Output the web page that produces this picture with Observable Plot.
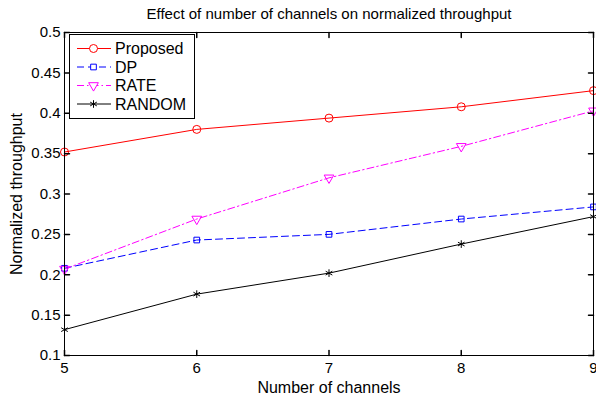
<!DOCTYPE html>
<html><head><meta charset="utf-8">
<script src="https://cdn.jsdelivr.net/npm/d3@7"></script>
<script src="https://cdn.jsdelivr.net/npm/@observablehq/plot@0.6"></script>
<style>
body{margin:0;background:#fff;}
#chart{position:relative;width:596px;height:401px;}
#chart svg{font-family:"Liberation Sans",Arial,Helvetica,sans-serif;}
</style></head><body><div id="chart"></div>
<script>
const channels = [5, 6, 7, 8, 9];
const proposed = [0.352, 0.380, 0.394, 0.408, 0.428];
const dp       = [0.208, 0.243, 0.250, 0.269, 0.284];
const rate     = [0.207, 0.269, 0.320, 0.359, 0.403];
const random   = [0.132, 0.176, 0.202, 0.238, 0.272];
const seriesNames = ["Proposed", "DP", "RATE", "RANDOM"];
const seriesValues = [proposed, dp, rate, random];
const xTicks = [5, 6, 7, 8, 9];
const yTicks = [0.1, 0.15, 0.2, 0.25, 0.3, 0.35, 0.4, 0.45, 0.5];
const titleText = "Effect of number of channels on normalized throughput";
const xLabel = "Number of channels";
const yLabel = "Normalized throughput";

const styles = {
  Proposed: {stroke: "#ff0000", dash: null, symbol: "circle", rotate: 0, r: 4},
  DP: {stroke: "#0000ff", dash: "7,4", symbol: "square", rotate: 0, r: 3.2},
  RATE: {stroke: "#ff00ff", dash: "7,3,1.5,3", symbol: "triangle", rotate: 180, r: 3.6},
  RANDOM: {stroke: "#000000", dash: null, symbol: "asterisk", rotate: 0, r: 3.6}
};

const rows = seriesNames.flatMap((s, i) =>
  channels.map((c, j) => ({series: s, channels: c, value: seriesValues[i][j]})));

const tickShape = {draw(ctx, l) { ctx.moveTo(0, 0); ctx.lineTo(0, -l); }};
const fmtY = d => String(+d.toFixed(2));

const seriesMarks = seriesNames.flatMap(s => {
  const st = styles[s];
  const data = rows.filter(d => d.series === s);
  return [
    Plot.line(data, {x: "channels", y: "value", stroke: st.stroke, strokeWidth: 1, strokeDasharray: st.dash}),
    Plot.dot(data, {x: "channels", y: "value", stroke: st.stroke, strokeWidth: 1, fill: "none", symbol: st.symbol, r: st.r, rotate: st.rotate})
  ];
});

const chart = Plot.plot({
  width: 596,
  height: 401,
  marginLeft: 64,
  marginRight: 3,
  marginTop: 32,
  marginBottom: 46,
  style: {fontSize: "15px", color: "black", background: "white", fontFamily: "'Liberation Sans', Arial, sans-serif"},
  x: {domain: [5, 9]},
  y: {domain: [0.1, 0.5]},
  marks: [
    ...seriesMarks,
    Plot.frame({stroke: "black", strokeWidth: 1}),
    Plot.vector(xTicks, {x: d => d, frameAnchor: "bottom", length: 5, rotate: 0, anchor: "start", shape: tickShape, stroke: "black"}),
    Plot.vector(xTicks, {x: d => d, frameAnchor: "top", length: 5, rotate: 180, anchor: "start", shape: tickShape, stroke: "black"}),
    Plot.vector(yTicks, {y: d => d, frameAnchor: "left", length: 5, rotate: 90, anchor: "start", shape: tickShape, stroke: "black"}),
    Plot.vector(yTicks, {y: d => d, frameAnchor: "right", length: 5, rotate: -90, anchor: "start", shape: tickShape, stroke: "black"}),
    Plot.axisX(xTicks, {tickSize: 0, tickPadding: 7, fontSize: 15, label: null, tickFormat: d => String(d)}),
    Plot.axisY(yTicks, {tickSize: 0, tickPadding: 4, fontSize: 15, label: null, tickFormat: fmtY}),
    Plot.text([titleText], {text: d => d, frameAnchor: "top", dy: -18, lineAnchor: "middle", textAnchor: "middle", fontSize: 15}),
    Plot.text([xLabel], {text: d => d, frameAnchor: "bottom", dy: 32, lineAnchor: "middle", textAnchor: "middle", fontSize: 16}),
    Plot.text([yLabel], {text: d => d, frameAnchor: "left", dx: -48, rotate: -90, lineAnchor: "middle", textAnchor: "middle", fontSize: 16})
  ]
});
document.getElementById("chart").appendChild(chart);

// Legend (inside the plot area, upper-left)
const symbolMap = {circle: d3.symbolCircle, square: d3.symbolSquare, triangle: d3.symbolTriangle, asterisk: d3.symbolAsterisk};
const svg = d3.select(chart);
const lg = svg.append("g");
lg.append("rect").attr("x", 69.5).attr("y", 34.5).attr("width", 125).attr("height", 84)
  .attr("fill", "white").attr("stroke", "black");
seriesNames.forEach((s, i) => {
  const st = styles[s];
  const y = 48.5 + i * 18.5;
  lg.append("line").attr("x1", 77).attr("x2", 111).attr("y1", y).attr("y2", y)
    .attr("stroke", st.stroke).attr("stroke-dasharray", st.dash);
  lg.append("path").attr("d", d3.symbol(symbolMap[st.symbol], st.r * st.r * Math.PI)())
    .attr("transform", `translate(93.5,${y}) rotate(${st.rotate})`)
    .attr("fill", "white").attr("stroke", st.stroke);
  lg.append("text").attr("x", 115).attr("y", y).attr("dy", "0.35em")
    .attr("text-anchor", "start").attr("font-size", 16).attr("fill", "black").text(s);
});
</script>
</body></html>
